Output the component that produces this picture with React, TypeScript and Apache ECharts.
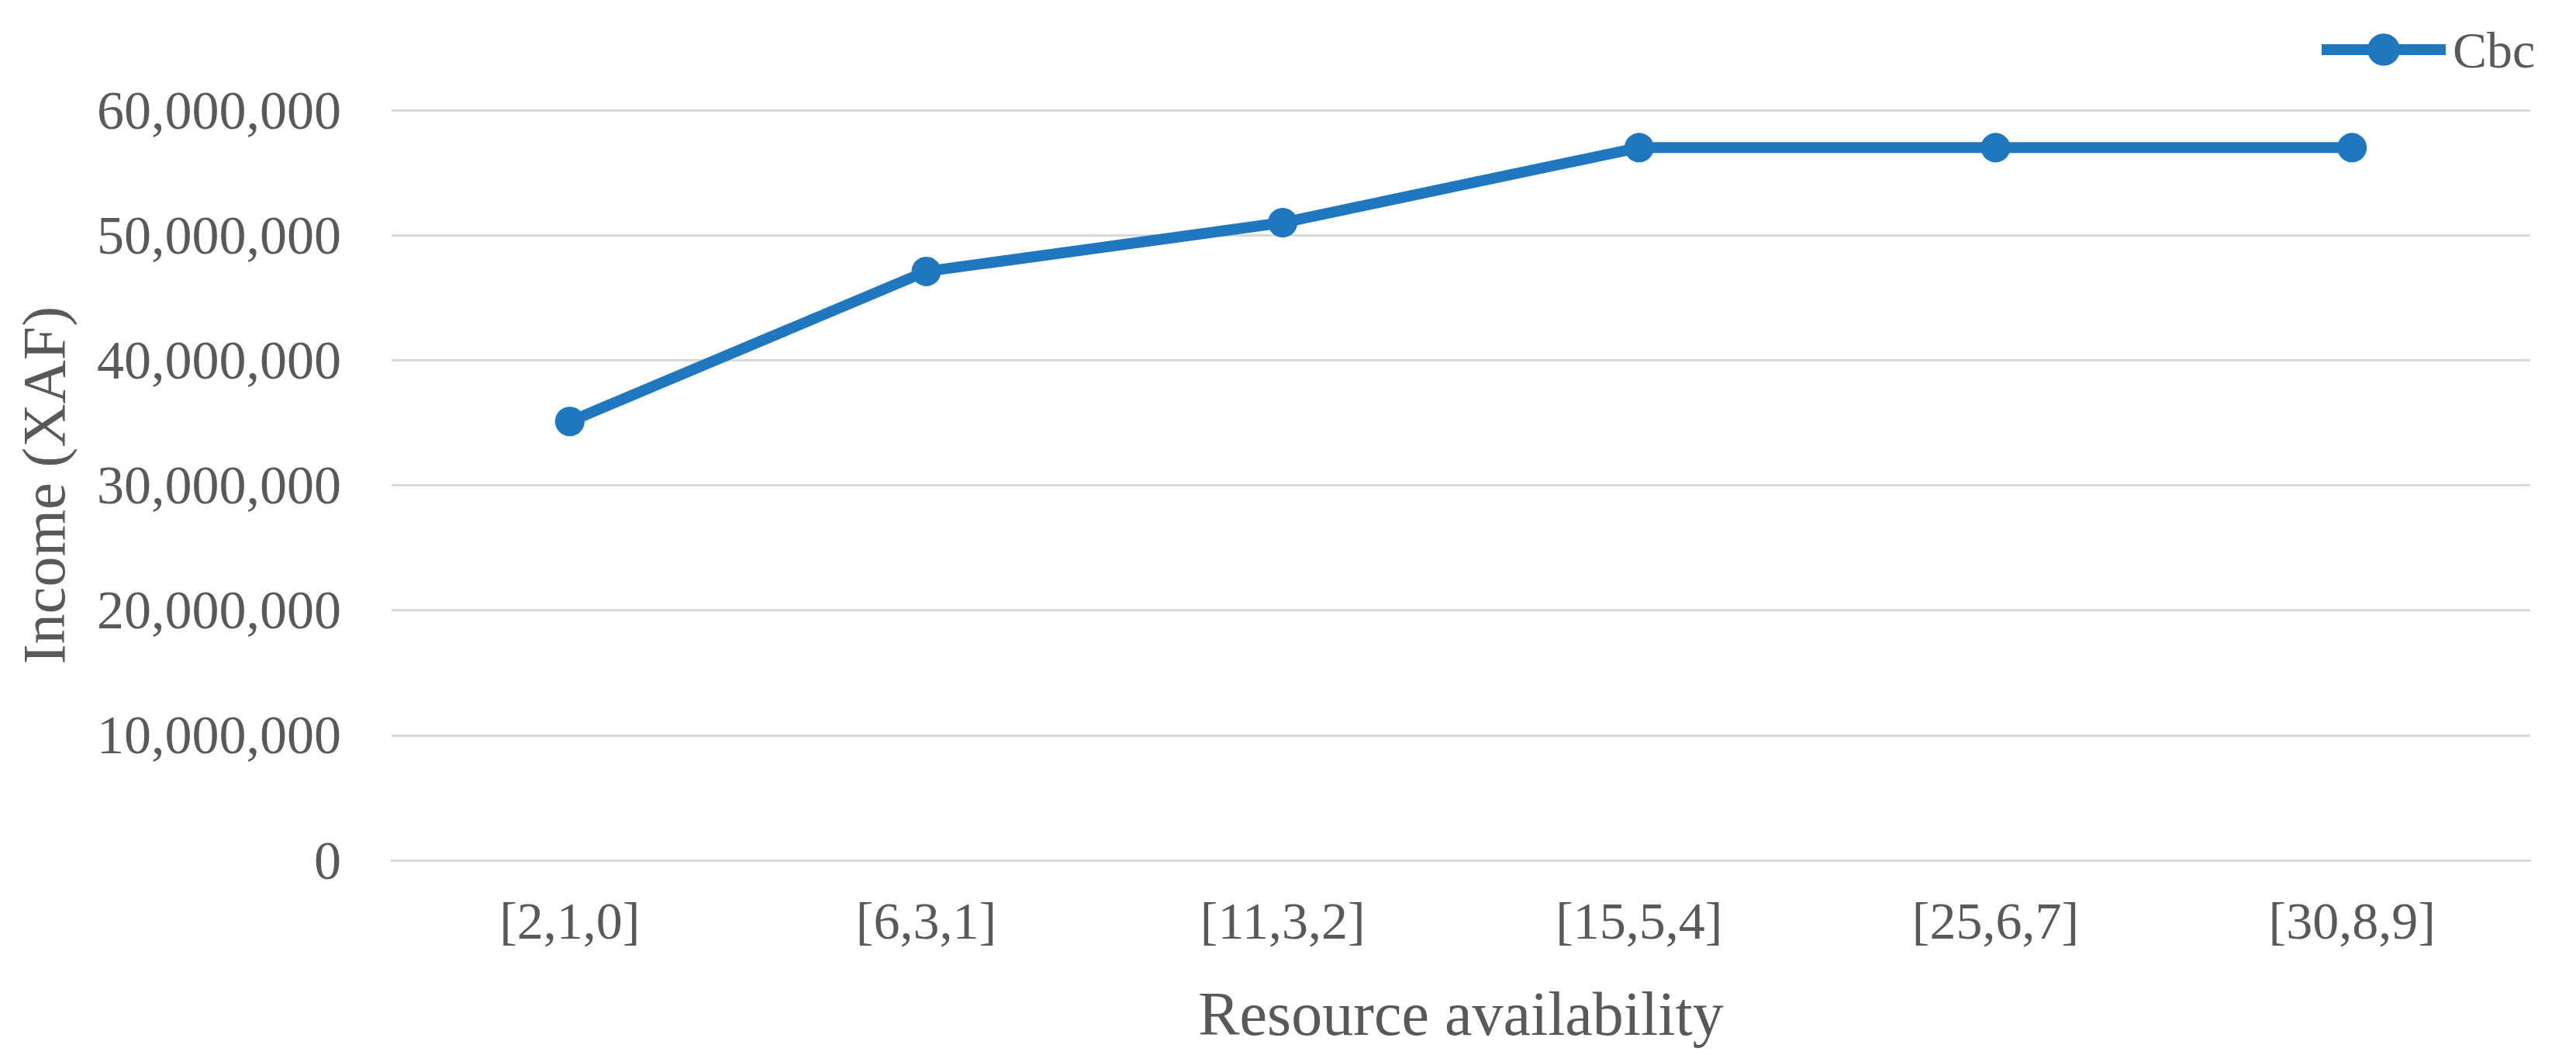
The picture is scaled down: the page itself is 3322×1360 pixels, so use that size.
import React, { useEffect, useRef } from "react";
import * as echarts from "echarts";

const categories = ["[2,1,0]", "[6,3,1]", "[11,3,2]", "[15,5,4]", "[25,6,7]", "[30,8,9]"];
const cbcValues = [35100000, 47100000, 51000000, 57000000, 57000000, 57000000];
const seriesName = "Cbc";
const yAxisTitle = "Income (XAF)";
const xAxisTitle = "Resource availability";

const FONT = "'Liberation Serif', 'Times New Roman', serif";
const TEXT = "#595959";
const BLUE = "#1F78BF";

export default function App() {
  const ref = useRef<HTMLDivElement>(null);
  useEffect(() => {
    if (!ref.current) return;
    const chart = echarts.init(ref.current, undefined, { renderer: "svg" });
    chart.setOption({
      animation: false,
      backgroundColor: "#ffffff",
      textStyle: { fontFamily: FONT, color: TEXT },
      legend: {
        data: [seriesName],
        left: 2982,
        top: 26,
        itemWidth: 160,
        itemHeight: 52,
        itemGap: 10,
        lineStyle: { width: 14, color: BLUE },
        itemStyle: { color: BLUE },
        textStyle: { fontFamily: FONT, color: TEXT, fontSize: 66, padding: [0, 0, 0, 4] },
      },
      grid: { left: 505, right: 59, top: 142, bottom: 251, containLabel: false },
      xAxis: {
        type: "category",
        data: categories,
        boundaryGap: true,
        name: xAxisTitle,
        nameLocation: "middle",
        nameGap: 158,
        nameTextStyle: { fontFamily: FONT, color: TEXT, fontSize: 80 },
        axisLine: { show: true, lineStyle: { color: "#D9D9D9", width: 3 } },
        axisTick: { show: false },
        axisLabel: { fontFamily: FONT, color: TEXT, fontSize: 68, margin: 44 },
      },
      yAxis: {
        type: "value",
        min: 0,
        max: 60000000,
        interval: 10000000,
        name: yAxisTitle,
        nameLocation: "middle",
        nameGap: 410,
        nameRotate: 90,
        nameTextStyle: { fontFamily: FONT, color: TEXT, fontSize: 78 },
        axisLine: { show: false },
        axisTick: { show: false },
        splitLine: { show: true, lineStyle: { color: "#D9D9D9", width: 3 } },
        axisLabel: {
          fontFamily: FONT,
          color: TEXT,
          fontSize: 70,
          margin: 65,
          formatter: (v: number) => v.toLocaleString("en-US"),
        },
      },
      series: [
        {
          name: seriesName,
          type: "line",
          data: cbcValues,
          symbol: "circle",
          symbolSize: 38,
          lineStyle: { color: BLUE, width: 14 },
          itemStyle: { color: BLUE },
        },
      ],
    });
    return () => chart.dispose();
  }, []);
  return <div ref={ref} style={{ width: 3322, height: 1360, position: "absolute", left: 0, top: 0 }} />;
}
